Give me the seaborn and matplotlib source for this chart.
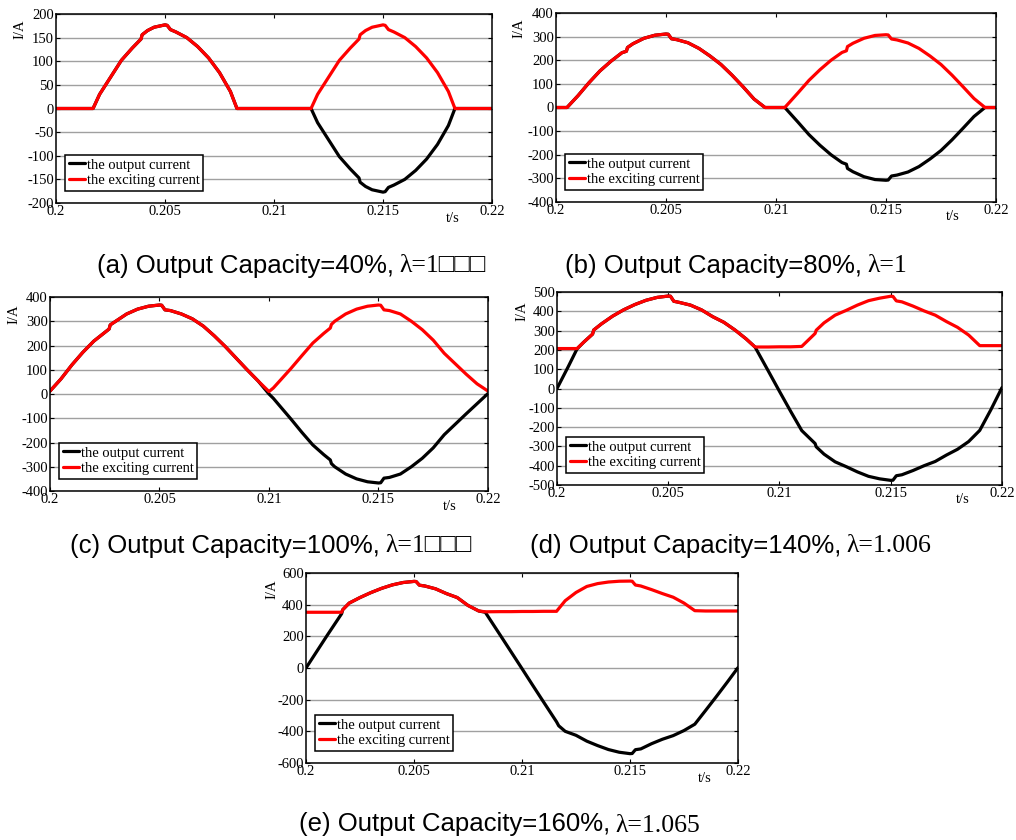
import numpy as np
import matplotlib
matplotlib.use("Agg")   # headless
import matplotlib.pyplot as plt
import seaborn as sns

# ── Values (time in s, current in A) ───────────────────────────────────────
# (a) output capacity 40 %
t_a = [0.2000, 0.2017, 0.2020, 0.2025, 0.2030, 0.2035, 0.2039, 0.20395, 0.2042, 0.2045,
       0.2050, 0.2051, 0.20525, 0.2055, 0.2060, 0.2065, 0.2070, 0.2075, 0.2080, 0.2083,
       0.2117, 0.2120, 0.2125, 0.2130, 0.2135, 0.2139, 0.21395, 0.2142, 0.2145, 0.2150,
       0.2151, 0.21525, 0.2155, 0.2160, 0.2165, 0.2170, 0.2175, 0.2180, 0.2183, 0.2200]
out_a = [0, 0, 30, 66, 102, 128, 147, 156, 165, 172,
         177, 176, 167, 162, 150, 131, 107, 76, 36, 0,
         0, -30, -66, -102, -128, -147, -156, -165, -172, -177,
         -176, -167, -162, -150, -131, -107, -76, -36, 0, 0]
exc_a = [0, 0, 30, 66, 102, 128, 147, 156, 165, 172,
         177, 176, 167, 162, 150, 131, 107, 76, 36, 0,
         0, 30, 66, 102, 128, 147, 156, 165, 172, 177,
         176, 167, 162, 150, 131, 107, 76, 36, 0, 0]

# (b) output capacity 80 %
t_b = [0.2000, 0.2005, 0.2010, 0.2015, 0.2020, 0.2025, 0.2030, 0.2032, 0.20325, 0.2035,
       0.2040, 0.2045, 0.2050, 0.2051, 0.20525, 0.2055, 0.2060, 0.2065, 0.2070, 0.2075,
       0.2080, 0.2085, 0.2090, 0.2095,
       0.2104, 0.2110, 0.2115, 0.2120, 0.2125, 0.2130, 0.2132, 0.21325, 0.2135, 0.2140,
       0.2145, 0.2150, 0.2151, 0.21525, 0.2155, 0.2160, 0.2165, 0.2170, 0.2175, 0.2180,
       0.2185, 0.2190, 0.2195, 0.2200]
out_b = [0, 0, 50, 105, 155, 196, 232, 238, 254, 270,
         293, 306, 311, 310, 291, 287, 274, 250, 218, 182,
         137, 88, 36, 0,
         0, -62, -115, -160, -200, -233, -240, -258, -272, -293,
         -305, -308, -307, -290, -286, -273, -250, -218, -182, -137,
         -88, -38, 0, 0]
exc_b = [0, 0, 50, 105, 155, 196, 232, 238, 254, 270,
         293, 306, 311, 310, 291, 287, 274, 250, 218, 182,
         137, 88, 36, 0,
         0, 62, 115, 160, 200, 233, 240, 258, 272, 293,
         305, 308, 307, 290, 286, 273, 250, 218, 182, 137,
         88, 38, 0, 0]

# (c) output capacity 100 %
t_c = [0.2000, 0.2005, 0.2010, 0.2015, 0.2020, 0.2027, 0.20275, 0.2030, 0.2035, 0.2040,
       0.2045, 0.2050, 0.2051, 0.20525, 0.2055, 0.2060, 0.2065, 0.2070, 0.2075, 0.2080,
       0.2085, 0.2090, 0.2095,
       0.2100, 0.2102, 0.2105, 0.2110, 0.2115, 0.2120, 0.2125, 0.2128, 0.21285, 0.2130,
       0.2135, 0.2140, 0.2145, 0.2150, 0.2151, 0.21525, 0.2155, 0.2160, 0.2165, 0.2170,
       0.2175, 0.2180, 0.2185, 0.2190, 0.2195, 0.2200]
out_c = [12, 62, 120, 172, 218, 268, 285, 300, 330, 350,
         362, 367, 366, 347, 344, 330, 310, 280, 240, 196,
         148, 100, 54,
         0, -18, -50, -103, -158, -210, -250, -272, -287, -300,
         -330, -350, -362, -367, -366, -347, -344, -330, -300, -265,
         -222, -168, -125, -82, -40, 2]
exc_c = [12, 62, 120, 172, 218, 268, 285, 300, 330, 350,
         362, 367, 366, 347, 344, 330, 310, 280, 240, 196,
         148, 100, 54,
         10, 25, 55, 105, 158, 210, 250, 272, 287, 300,
         330, 350, 362, 367, 366, 347, 344, 330, 300, 265,
         222, 168, 125, 82, 42, 12]

# (d) output capacity 140 %
t_d = [0.2000, 0.2005, 0.2009, 0.2012, 0.2016, 0.20165, 0.2020, 0.2025, 0.2030, 0.2035,
       0.2040, 0.2045, 0.2050, 0.2051, 0.20525, 0.2055, 0.2060, 0.2065, 0.2070, 0.2075,
       0.2080, 0.2085, 0.2089, 0.2095, 0.2100, 0.2105, 0.2110, 0.2116, 0.21165, 0.2120,
       0.2125, 0.2130, 0.2135, 0.2140, 0.2145, 0.2150, 0.2151, 0.21525, 0.2155, 0.2160,
       0.2165, 0.2170, 0.2175, 0.2180, 0.2185, 0.2190, 0.2195, 0.2200]
out_d = [0, 112, 205, 240, 282, 303, 335, 375, 408, 435,
         457, 472, 479, 478, 452, 446, 432, 407, 372, 343,
         303, 257, 215, 90, -15, -118, -218, -285, -302, -340,
         -380, -405, -432, -455, -468, -476, -475, -452, -447, -425,
         -400, -378, -345, -315, -275, -217, -110, 5]
exc_d = [207, 207, 207, 240, 282, 303, 335, 375, 408, 435,
         457, 472, 479, 478, 452, 446, 432, 407, 372, 343,
         303, 257, 215, 215, 216, 216, 218, 285, 302, 340,
         380, 405, 432, 455, 468, 478, 477, 454, 449, 427,
         402, 380, 347, 317, 277, 222, 222, 222]

# (e) output capacity 160 %
t_e = [0.2000, 0.2005, 0.2010, 0.20165, 0.2017, 0.2020, 0.2025, 0.2030, 0.2035, 0.2040,
       0.2045, 0.2050, 0.2051, 0.20525, 0.2055, 0.2060, 0.2065, 0.2070, 0.2075, 0.2080,
       0.2083, 0.2090, 0.2095, 0.2100, 0.2105, 0.2110, 0.2116, 0.2117, 0.2120, 0.2125,
       0.2130, 0.2135, 0.2140, 0.2145, 0.2150, 0.2151, 0.21525, 0.2155, 0.2160, 0.2165,
       0.2170, 0.2175, 0.2180, 0.2185, 0.2190, 0.2195, 0.2200]
out_e = [0, 105, 210, 343, 368, 410, 445, 476, 503, 525,
         540, 547, 546, 523, 518, 500, 470, 445, 395, 360,
         352, 206, 101, -4, -110, -215, -340, -365, -400, -425,
         -462, -490, -515, -532, -541, -540, -516, -511, -478, -450,
         -427, -395, -355, -268, -180, -90, 2]
exc_e = [352, 352, 352, 352, 368, 410, 445, 476, 503, 525,
         540, 547, 546, 523, 518, 500, 470, 445, 395, 360,
         355, 356, 356, 357, 357, 358, 358, 375, 425, 477,
         515, 533, 543, 548, 549, 548, 524, 518, 495, 470,
         447, 410, 362, 360, 360, 360, 360]

x_ticks = [0.2, 0.205, 0.21, 0.215, 0.22]
x_tick_labels = ["0.2", "0.205", "0.21", "0.215", "0.22"]

captions = [
    ("(a) Output Capacity=40%,", "λ=1□□□"),
    ("(b) Output Capacity=80%,", "λ=1"),
    ("(c) Output Capacity=100%,", "λ=1□□□"),
    ("(d) Output Capacity=140%,", "λ=1.006"),
    ("(e) Output Capacity=160%,", "λ=1.065"),
]

# ── Layout (pixel boxes: left, top, right, bottom) ─────────────────────────
W, H = 1016, 840
PANELS = [
    dict(box=(56, 14, 492, 203), t=t_a, out=out_a, exc=exc_a, ylim=(-200, 200), step=50,
         ylab=(-36, -15), ts=0.911, cap=(97, 272.5)),
    dict(box=(556, 13, 996, 202), t=t_b, out=out_b, exc=exc_b, ylim=(-400, 400), step=100,
         ylab=(-37, -15), ts=0.902, cap=(565, 272.5)),
    dict(box=(50, 297, 488, 491), t=t_c, out=out_c, exc=exc_c, ylim=(-400, 400), step=100,
         ylab=(-36, -17), ts=0.913, cap=(70, 552.5)),
    dict(box=(557, 292, 1002, 485), t=t_d, out=out_d, exc=exc_d, ylim=(-500, 500), step=100,
         ylab=(-35, -19), ts=0.912, cap=(530, 552.5)),
    dict(box=(306, 573, 738, 763), t=t_e, out=out_e, exc=exc_e, ylim=(-600, 600), step=200,
         ylab=(-34, -16), ts=0.924, cap=(299, 831.5)),
]

SERIF = ["Liberation Serif", "DejaVu Sans"]
SANS = ["Liberation Sans", "DejaVu Sans"]
LW = 2.3
TICK_FS = 10.5

sns.set_theme(style="ticks")
plt.rcParams["font.family"] = SERIF
plt.rcParams["axes.unicode_minus"] = False
plt.rcParams["text.color"] = "black"
plt.rcParams["legend.labelcolor"] = "black"


def px_rect(l, t, r, b):
    return [l / W, 1 - b / H, (r - l) / W, (b - t) / H]


fig = plt.figure(figsize=(W / 100, H / 100), dpi=100)
fig.patch.set_facecolor("white")

for p in PANELS:
    ax = fig.add_axes(px_rect(*p["box"]))
    sns.lineplot(x=p["t"], y=p["out"], ax=ax, color="black", linewidth=LW,
                 label="the output current", estimator=None, sort=False)
    sns.lineplot(x=p["t"], y=p["exc"], ax=ax, color="#ff0000", linewidth=LW,
                 label="the exciting current", estimator=None, sort=False)

    lo, hi = p["ylim"]
    ax.set_xlim(0.2, 0.22)
    ax.set_ylim(lo, hi)
    ax.set_xticks(x_ticks)
    ax.set_xticklabels(x_tick_labels)
    ax.set_yticks(np.arange(lo, hi + 1, p["step"]))
    ax.set_xlabel("")
    ax.set_ylabel("")
    ax.yaxis.grid(True, color="#a0a0a0", linewidth=1.0)
    ax.xaxis.grid(False)
    ax.set_axisbelow(True)
    ax.set_facecolor("white")
    ax.tick_params(direction="in", top=True, right=True, length=3, width=0.8,
                   pad=1.5, labelsize=TICK_FS, colors="black")
    for s in ax.spines.values():
        s.set_visible(True)
        s.set_color("black")
        s.set_linewidth(1.1)

    # axis labels sit at the frame corners, as in the original
    ax.annotate("I/A", xy=(0, 1), xycoords="axes fraction", xytext=p["ylab"],
                textcoords="offset pixels", rotation=90, ha="center", va="center",
                fontsize=TICK_FS, family=SERIF, color="black")
    ax.annotate("t/s", xy=(p["ts"], 0), xycoords="axes fraction", xytext=(0, -15),
                textcoords="offset pixels", ha="center", va="center",
                fontsize=TICK_FS, family=SERIF, color="black")

    bw = p["box"][2] - p["box"][0]
    bh = p["box"][3] - p["box"][1]
    leg = ax.legend(loc="lower left", bbox_to_anchor=(9 / bw, 12 / bh), borderaxespad=0,
                    frameon=True, fancybox=False, edgecolor="black", framealpha=1,
                    handlelength=1.1, handletextpad=0.15, borderpad=0.25,
                    labelspacing=0.18, prop={"family": SERIF, "size": TICK_FS})
    leg.get_frame().set_linewidth(1.1)

# ── Captions: sans text, then serif lambda part right after it ─────────────
renderer = fig.canvas.get_renderer()
for p, (sans_part, serif_part) in zip(PANELS, captions):
    cx, cy = p["cap"]
    t1 = fig.text(cx / W, 1 - cy / H, sans_part, family=SANS, fontsize=18.5,
                  ha="left", va="baseline", color="black")
    bb = t1.get_window_extent(renderer=renderer)
    fig.text((bb.x1 + 5) / W, 1 - cy / H, serif_part, family=SERIF, fontsize=18.5,
             ha="left", va="baseline", color="black")

fig.savefig("out.png", dpi=100)
plt.close(fig)
